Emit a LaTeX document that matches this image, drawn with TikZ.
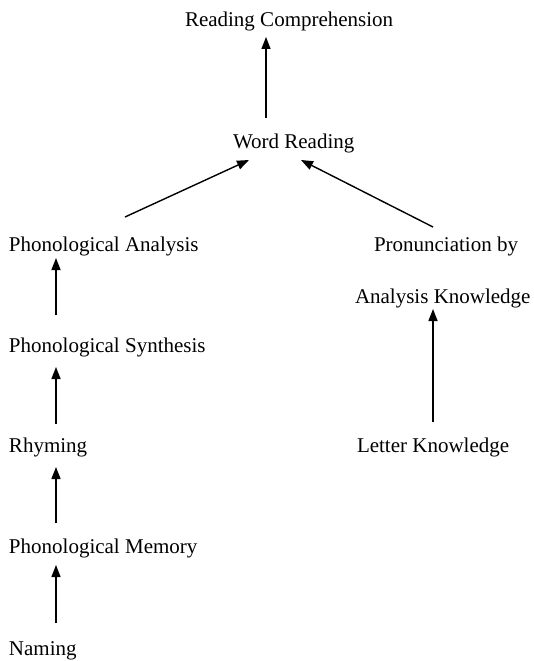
\documentclass[tikz,border=0pt]{standalone}
\usepackage{fontspec}
\setmainfont{Liberation Serif}
\usetikzlibrary{arrows.meta}
\begin{document}
\begin{tikzpicture}[x=1pt,y=-1pt,
  lbl/.style={inner sep=0pt,outer sep=0pt,anchor=base west,font=\fontsize{21}{25}\selectfont},
  arr/.style={line width=1.4pt,-{Triangle[length=12pt,width=9pt]}}]
\useasboundingbox (0,0) rectangle (533,661);
\node[lbl] (rc)  at (185,27)  {Reading Comprehension};
\node[lbl] (wr)  at (233,148) {Word Reading};
\node[lbl] (pa)  at (9,251)   {Phonological Analysis};
\node[lbl] (pr)  at (374,251) {Pronunciation by};
\node[lbl] (ak)  at (355,303) {Analysis Knowledge};
\node[lbl] (ps)  at (9,352)   {Phonological Synthesis};
\node[lbl] (rh)  at (9,452)   {Rhyming};
\node[lbl] (lk)  at (357,452) {Letter Knowledge};
\node[lbl] (pm)  at (9,553)   {Phonological Memory};
\node[lbl] (nm)  at (9,655)   {Naming};
% connectors
\draw[arr] ([shift={(33,-30)}]wr.base west) -- ([shift={(81,10)}]rc.base west);
\draw[arr] ([shift={(116,-34)}]pa.base west) -- ([shift={(16,12)}]wr.base west);
\draw[arr] ([shift={(59,-24)}]pr.base west) -- ([shift={(68,12)}]wr.base west);
\draw[arr] ([shift={(76,-30)}]lk.base west) -- ([shift={(78,6)}]ak.base west);
\draw[arr] ([shift={(47,-37)}]ps.base west) -- ([shift={(47,7)}]pa.base west);
\draw[arr] ([shift={(47,-28)}]rh.base west) -- ([shift={(47,15)}]ps.base west);
\draw[arr] ([shift={(47,-30)}]pm.base west) -- ([shift={(47,15)}]rh.base west);
\draw[arr] ([shift={(47,-32)}]nm.base west) -- ([shift={(47,12)}]pm.base west);
\end{tikzpicture}
\end{document}
